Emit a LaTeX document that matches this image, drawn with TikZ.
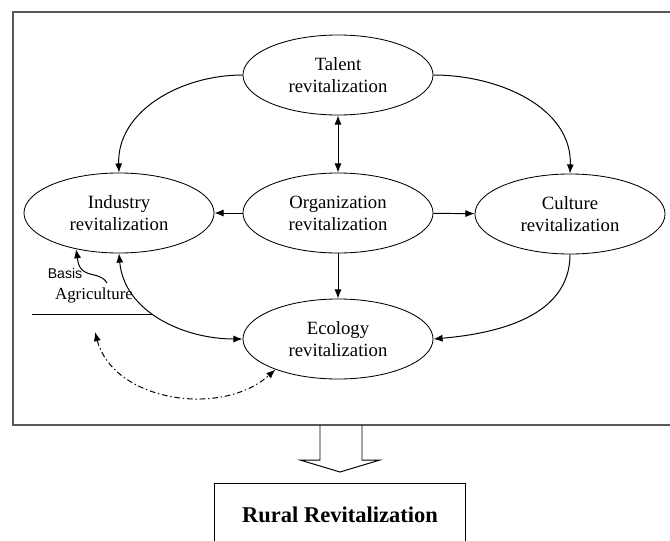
\documentclass[tikz,border=0pt]{standalone}
\usepackage{fontspec}
\setmainfont{Liberation Serif}
\newfontfamily\basisfont{Liberation Sans}
\usepackage{tikz}
\usetikzlibrary{arrows.meta,shapes.geometric}

\begin{document}
\begin{tikzpicture}[x=0.025cm, y=-0.025cm,
    >={Latex[length=6.5pt,width=5pt]},
    oval/.style={draw, line width=0.6pt, ellipse, minimum width=4.75cm, minimum height=2cm,
      inner sep=0pt, align=center, font=\fontsize{13.3}{15.5}\selectfont},
    link/.style={->, line width=0.7pt}]
  \useasboundingbox (0, 0) rectangle (670, 540);
  \draw [line width=1.3pt, black!65] (13, 12) rectangle (680, 425);
  \node [oval] (tal) at (338, 75) {Talent\\revitalization};
  \node [oval] (org) at (338, 213) {Organization\\revitalization};
  \node [oval] (ind) at (119, 213) {Industry\\revitalization};
  \node [oval] (cul) at (570, 214) {Culture\\revitalization};
  \node [oval] (eco) at (338, 339) {Ecology\\revitalization};
  \node (agr) at (94, 295) {\fontsize{12}{14}\selectfont Agriculture};
  \node (bas) at (65, 273) {\basisfont\fontsize{10}{12}\selectfont Basis};
  \coordinate (agrL) at (32, 314);
  \coordinate (agrR) at (152, 314);
  \coordinate (agrT) at (107, 283);
  \coordinate (agrB) at (95, 332);
  \draw [line width=0.6pt] (agrL) -- (agrR);
  \draw [link] (tal.west) to [out=180, in=92] (ind.north);
  \draw [link] (tal.east) to [out=0, in=88] (cul.north);
  \draw [link, <->] (tal) -- (org);
  \draw [link] (org) -- (ind);
  \draw [link] (org) -- (cul);
  \draw [link] (org) -- (eco);
  \draw [link] (cul.south) to [out=-90, in=5] (eco.east);
  \draw [link, <->] (ind.south) to [out=-85, in=180] (eco.west);
  \draw [link] (agrT) to [out=120, in=-20] (bas.east) to [out=160, in=-80] (ind.220);
  \draw [link, <->, dash pattern=on 4pt off 2pt on 1pt off 2pt]
    (agrB) to [out=-75, in=222] (eco.206);
  % hollow arrow down to the result
  \draw [line width=0.7pt] (320, 425) -- (320, 460) -- (300, 460) -- (340, 472)
    -- (380, 460) -- (362, 460) -- (362, 425);
  \node [draw, line width=0.7pt, minimum width=6.25cm, minimum height=1.6cm,
    font=\fontsize{16}{18}\selectfont\bfseries] (rur) at (340, 515) {Rural Revitalization};
\end{tikzpicture}
\end{document}
